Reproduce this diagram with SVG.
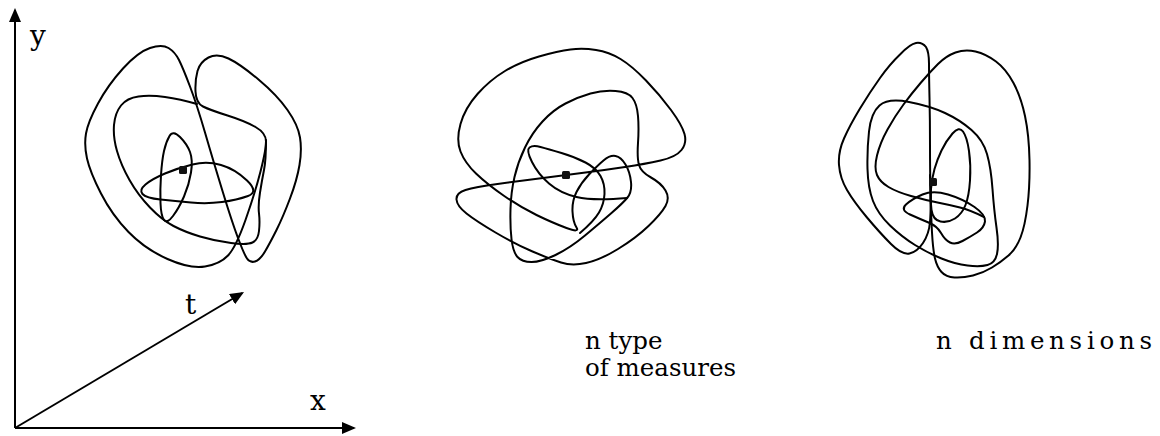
<svg xmlns="http://www.w3.org/2000/svg" width="1160" height="436" viewBox="0 0 1160 436">
<defs>
<marker id="arrow" viewBox="0 0 14 12" refX="12" refY="6" markerWidth="14" markerHeight="12" markerUnits="userSpaceOnUse" orient="auto">
<path d="M0,0 L14,6 L0,12 Z" fill="#000"/>
</marker>
</defs>
<style>
.curve{fill:none;stroke:#000;stroke-width:2;stroke-linejoin:round;stroke-linecap:round}
.axis{fill:none;stroke:#000;stroke-width:2}
.dot{fill:#111}
.lbl{font-family:"DejaVu Serif","Liberation Serif",serif;fill:#000}
.ax{font-size:28px}
.cap{font-size:24.5px}
</style>
<rect width="1160" height="436" fill="#fff"/>
<g id="axes">
<line class="axis" x1="15" y1="428" x2="15" y2="10" marker-end="url(#arrow)"/>
<line class="axis" x1="15" y1="428" x2="354" y2="428" marker-end="url(#arrow)"/>
<line class="axis" x1="15" y1="428" x2="242.3" y2="293" marker-end="url(#arrow)"/>
<text class="lbl ax" x="30" y="45">y</text>
<text class="lbl ax" x="185" y="314">t</text>
<text class="lbl ax" x="310" y="410">x</text>
</g>
<g id="tangle1">
<path class="curve" d="M168.5,48 Q162,44 150,48 Q138,52 123,68.5 Q108,85 98,103.5 Q88,122 86,133.5 Q84,145 87,158.5 Q90,172 101,193.5 Q112,215 128.5,232 Q145,249 167.5,259 Q190,269 205,266.5 Q220,264 228,255.5 Q236,247 245.5,220 Q255,193 260.5,171.5 Q266,150 266,141.5 Q266,133 255.5,127 Q245,121 227.5,115.5 Q210,110 203,106.5 Q196,103 195.5,91.5 Q195,80 197.5,71 Q200,62 208.5,57.5 Q217,53 228.5,58.5 Q240,64 258.5,79.5 Q277,95 287.5,110 Q298,125 300,137.5 Q302,150 299.5,165 Q297,180 290,198.5 Q283,217 276.5,230 Q270,243 265,251.5 Q260,260 255,261.5 Q250,263 247,258.5 Q244,254 238,238 Q232,222 222.5,191 Q213,160 205,132.5 Q197,105 190,86.5 Q183,68 179,60 Q175,52 168.5,48 Z"/>
<path class="curve" d="M197,104 Q180,99 165,97 Q150,95 138.5,96.5 Q127,98 121,105.5 Q115,113 114,125 Q113,137 117,151 Q121,165 129.5,180 Q138,195 150,207.5 Q162,220 173.5,226 Q185,232 200,236.5 Q215,241 231,243 Q247,245 252.5,242.5 Q258,240 259,231 Q260,222 259,213.5 Q258,205 260,192.5 Q262,180 264,170 Q266,160 266,140"/>
<path class="curve" d="M169.5,136 Q173,130 180,137 Q187,144 190,152 Q193,160 191,172.5 Q189,185 184,196.5 Q179,208 173,216 Q167,224 164,220 Q161,216 160.5,203 Q160,190 161,175 Q162,160 164,151 Q166,142 169.5,136 Z"/>
<path class="curve" d="M142.5,194 Q139,190 145.5,184.5 Q152,179 165,173.5 Q178,168 192.5,164.5 Q207,161 221,165 Q235,169 247,180.5 Q259,192 248,196 Q237,200 222,202 Q207,204 191,202.5 Q175,201 160.5,199.5 Q146,198 142.5,194 Z"/>
<rect class="dot" x="179" y="166" width="8" height="8" rx="1.5"/>
</g>
<g id="tangle2">
<path class="curve" d="M576.5,227.5 Q580,233 566.5,228 Q553,223 536.5,215 Q520,207 503.5,195.5 Q487,184 476,173.5 Q465,163 460.5,151.5 Q456,140 460.5,124 Q465,108 477.5,94 Q490,80 505,71 Q520,62 539,56.5 Q558,51 570.5,49.5 Q583,48 596,50 Q609,52 620.5,59 Q632,66 646,80.5 Q660,95 671,110 Q682,125 684.5,134 Q687,143 681.5,150 Q676,157 660.5,160.5 Q645,164 625,167 Q605,170 585.5,172.5 Q566,175 543,178 Q520,181 497.5,184 Q475,187 465.5,190 Q456,193 456.5,199.5 Q457,206 466.5,213.5 Q476,221 495.5,232.5 Q515,244 532.5,251.5 Q550,259 561,262.5 Q572,266 586,263 Q600,260 618,249 Q636,238 648.5,226 Q661,214 665.5,206 Q670,198 665.5,190.5 Q661,183 651,177.5 Q641,172 639,165 Q637,158 638,143 Q639,128 638,116 Q637,104 632.5,98 Q628,92 615.5,91 Q603,90 590.5,93.5 Q578,97 565.5,103.5 Q553,110 542.5,121.5 Q532,133 525,147.5 Q518,162 514.5,177 Q511,192 510.5,209 Q510,226 511.5,239 Q513,252 517.5,257 Q522,262 531.5,262 Q541,262 555.5,255 Q570,248 585,235.5 Q600,223 611.5,213 Q623,203 627.5,197.5 Q632,192 631,182 Q630,172 625.5,164.5 Q621,157 615.5,156 Q610,155 603.5,160.5 Q597,166 589,174.5 Q581,183 576.5,192 Q572,201 572.5,211.5 Q573,222 576.5,227.5 Z"/>
<path class="curve" d="M627,198 Q593,201 576.5,197 Q560,193 549,183.5 Q538,174 532,162 Q526,150 529.5,147.5 Q533,145 540.5,147 Q548,149 561.5,153 Q575,157 585.5,162.5 Q596,168 600.5,176 Q605,184 604.5,194 Q604,204 599,212.5 Q594,221 580,233"/>
<rect class="dot" x="562" y="171" width="8" height="8" rx="1.5"/>
</g>
<g id="tangle3">
<path class="curve" d="M926,47 Q922,42 916,43 Q910,44 900,54.5 Q890,64 880,78 Q870,92 860,108.5 Q850,125 844,138.5 Q838,152 839,165 Q840,178 847,190 Q854,202 867,217.5 Q880,233 891,244 Q902,255 909.5,253.5 Q917,252 923,243 Q929,234 930,222 Q931,210 930.5,190 Q930,170 930,145 Q930,120 929.5,97.5 Q929,75 929,63.5 Q929,52 926,47 Z"/>
<path class="curve" d="M930,175 Q931,215 932,232.5 Q933,250 935,258.5 Q937,267 941.5,272 Q946,277 954.5,277.5 Q963,278 973,275.5 Q983,273 992,267.5 Q1001,262 1008.5,255.5 Q1016,249 1020.5,237.5 Q1025,226 1027.5,205.5 Q1030,185 1029.5,160 Q1029,135 1025,116 Q1021,97 1013.5,83 Q1006,69 996,61.5 Q986,54 975.5,51.5 Q965,49 955.5,52.5 Q946,56 938,64 Q930,72 921,82.5 Q912,93 903.5,104.5 Q895,116 887.5,129.5 Q880,143 877,155.5 Q874,168 877,175 Q880,182 888.5,187 Q897,192 911,196 Q925,200 937.5,202.5 Q950,205 960,207.5 Q970,210 984,217"/>
<path class="curve" d="M879.5,105.5 Q888,98 909,102 Q930,106 945,113 Q960,120 971.5,130 Q983,140 987,154 Q991,168 992.5,189 Q994,210 996.5,227.5 Q999,245 997,254 Q995,263 987.5,265 Q980,267 967.5,265.5 Q955,264 941.5,258.5 Q928,253 915,245 Q902,237 890,225.5 Q878,214 873,201 Q868,188 867.5,169 Q867,150 869,131.5 Q871,113 879.5,105.5 Z"/>
<path class="curve" d="M952.5,133.5 Q959,126 963,131.5 Q967,137 969,151 Q971,165 970,180.5 Q969,196 965.5,205 Q962,214 955,218.5 Q948,223 940.5,221.5 Q933,220 931.5,210 Q930,200 931,189 Q932,178 934.5,169 Q937,160 941.5,150.5 Q946,141 952.5,133.5 Z"/>
<path class="curve" d="M910,214.5 Q900,210 906,204.5 Q912,199 922.5,194.5 Q933,190 948,194.5 Q963,199 974.5,207 Q986,215 985,221.5 Q984,228 977,232.5 Q970,237 962.5,241 Q955,245 950,242.5 Q945,240 941,233 Q937,226 928.5,222.5 Q920,219 910,214.5 Z"/>
<rect class="dot" x="929" y="178" width="8" height="8" rx="1.5"/>
</g>
<g id="captions">
<text class="lbl cap" x="585" y="349">n type</text>
<text class="lbl cap" x="585" y="376">of measures</text>
<text class="lbl cap" x="936" y="349" textLength="216" lengthAdjust="spacing">n dimensions</text>
</g>
</svg>
